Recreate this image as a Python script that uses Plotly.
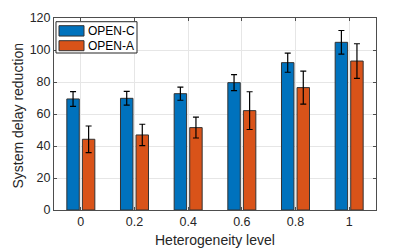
import plotly.graph_objects as go

categories = ["0", "0.2", "0.4", "0.6", "0.8", "1"]
open_c = [69.4, 69.8, 72.7, 79.6, 92.1, 104.8]
open_c_err = [4.6, 4.3, 4.1, 5.0, 6.0, 7.4]
open_a = [44.2, 46.9, 51.5, 62.1, 76.5, 93.1]
open_a_err = [8.3, 6.7, 6.5, 11.8, 10.3, 10.8]
y_ticks = [0, 20, 40, 60, 80, 100, 120]
series_names = ["OPEN-C", "OPEN-A"]
series_colors = ["#0072BD", "#D95319"]

FONT = "Liberation Sans, Arial, sans-serif"
EDGE = "#333333"

fig = go.Figure()
for name, vals, errs, col in [(series_names[0], open_c, open_c_err, series_colors[0]),
                              (series_names[1], open_a, open_a_err, series_colors[1])]:
    fig.add_trace(go.Bar(
        x=categories, y=vals, name=name, showlegend=False,
        marker=dict(color=col, line=dict(color=EDGE, width=1)),
        error_y=dict(type="data", array=errs, color="black", thickness=1.2, width=3),
    ))

axis_common = dict(
    showline=True, linecolor="#4d4d4d", linewidth=1, mirror="ticks",
    ticks="inside", ticklen=3, tickcolor="#4d4d4d",
    showgrid=True, gridcolor="#e6e6e6", gridwidth=1,
    tickfont=dict(family=FONT, size=12.5, color="#262626"),
    zeroline=False, automargin=False,
)

fig.update_layout(
    width=415, height=249,
    margin=dict(l=54, r=39, t=18, b=39),
    paper_bgcolor="white", plot_bgcolor="white",
    barmode="group", bargap=0.42, bargroupgap=0.2,
    font=dict(family=FONT, size=12, color="#262626"),
    xaxis=dict(**axis_common, range=[-0.5, 5.5]),
    yaxis=dict(**axis_common, range=[0, 120], tickvals=y_ticks),
    showlegend=False,
)

# axis titles
fig.add_annotation(text="Heterogeneity level", xref="paper", yref="paper",
                   x=0.5, y=-0.158, xanchor="center", yanchor="middle",
                   showarrow=False, font=dict(family=FONT, size=14, color="#262626"))
fig.add_annotation(text="System delay reduction", xref="paper", yref="paper",
                   x=-0.113, y=0.49, xanchor="center", yanchor="middle", textangle=-90,
                   showarrow=False, font=dict(family=FONT, size=14, color="#262626"))

# legend box (MATLAB style with wide swatches)
fig.add_shape(type="rect", xref="paper", yref="paper",
              x0=0.0062, x1=0.2578, y0=0.8177, y1=0.9807,
              fillcolor="white", line=dict(color="#262626", width=1), layer="above")
swatch_y = [(0.906, 0.96), (0.8297, 0.8818)]
for name, col, (y0, y1) in zip(series_names, series_colors, swatch_y):
    fig.add_shape(type="rect", xref="paper", yref="paper",
                  x0=0.0155, x1=0.0932, y0=y0, y1=y1,
                  fillcolor=col, line=dict(color=EDGE, width=1), layer="above")
    fig.add_annotation(text=name, xref="paper", yref="paper",
                       x=0.099, y=(y0 + y1) / 2, xanchor="left", yanchor="middle",
                       showarrow=False, font=dict(family=FONT, size=12, color="black"))

fig.write_html("out.html", config={"displayModeBar": False},
               post_script="document.body.style.margin='0';document.body.style.overflow='hidden';")
